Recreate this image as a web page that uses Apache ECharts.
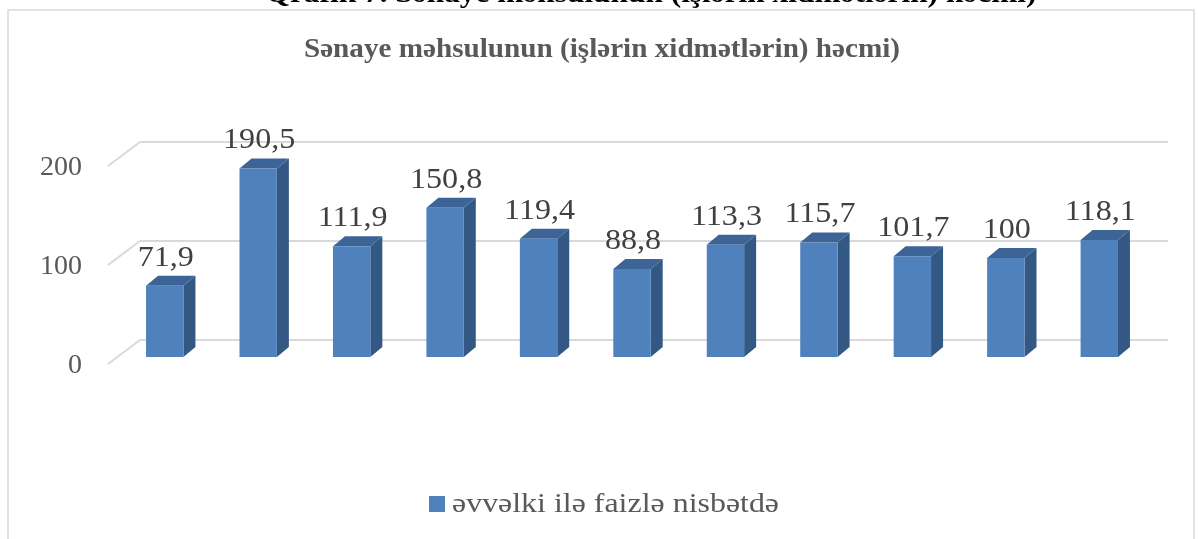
<!DOCTYPE html>
<html>
<head>
<meta charset="utf-8">
<script src="https://cdn.jsdelivr.net/npm/echarts@6/dist/echarts.min.js"></script>
<style>
  html, body { margin: 0; padding: 0; background: #fff; }
  #chart { width: 1198px; height: 539px; }
</style>
</head>
<body>
<div id="chart"></div>
<script>
  // data
  var categories = ['1', '2', '3', '4', '5', '6', '7', '8', '9', '10', '11']
  var values = [71.9, 190.5, 111.9, 150.8, 119.4, 88.8, 113.3, 115.7, 101.7, 100, 118.1]
  var yTicks = [0, 100, 200]
  var seriesName = 'əvvəlki ilə faizlə nisbətdə'
  var chartTitle = 'Sənaye məhsulunun (işlərin xidmətlərin) həcmi)'
  var pageTitle = 'Qrafik 7. Sənaye məhsulunun (işlərin xidmətlərin) həcmi)'

  var FONT = '"Liberation Serif", "Times New Roman", serif'
  var FRONT = '#4F81BD'
  var SIDE = '#345884'
  var TOP = '#3C6496'
  // bars stand in front of the back wall; depth offsets in px
  var SHIFT_X = -22, SHIFT_Y = 17
  var DEPTH_X = 12, DEPTH_Y = -10

  function fmt(v) {
    return String(v).replace('.', ',')
  }

  var chart = echarts.init(document.getElementById('chart'))

  chart.setOption({
    animation: false,
    grid: { left: 140, right: 30, top: 142, bottom: 199 },
    xAxis: {
      type: 'category',
      data: categories,
      axisLine: { show: false },
      axisTick: { show: false },
      axisLabel: { show: false }
    },
    yAxis: {
      type: 'value',
      min: 0,
      max: 200,
      interval: 100,
      axisLine: { show: false },
      axisTick: { show: false },
      axisLabel: { show: false },
      splitLine: { lineStyle: { color: '#D9D9D9', width: 2 } }
    },
    graphic: [
      {
        type: 'rect',
        shape: { x: 8, y: 10, width: 1186, height: 540 },
        style: { fill: 'none', stroke: '#D9D9D9', lineWidth: 1.5 },
        silent: true
      },
      {
        type: 'text',
        x: 651, y: -5, scaleX: 1.12,
        style: { text: pageTitle, x: 0, y: 0, align: 'center', verticalAlign: 'middle',
          font: 'bold 28px ' + FONT, fill: '#000' },
        silent: true
      },
      {
        type: 'text',
        x: 602, y: 50, scaleX: 1.08,
        style: { text: chartTitle, x: 0, y: 0, align: 'center', verticalAlign: 'middle',
          font: 'bold 27px ' + FONT, fill: '#595959' },
        silent: true
      },
      {
        type: 'rect',
        shape: { x: 429, y: 496, width: 16, height: 16 },
        style: { fill: FRONT },
        silent: true
      },
      {
        type: 'text',
        x: 452, y: 505, scaleX: 1.14,
        style: { text: seriesName, x: 0, y: 0, align: 'left', verticalAlign: 'middle',
          font: '28px ' + FONT, fill: '#595959' },
        silent: true
      }
    ],
    series: [
      {
        // floor/side wall diagonals and y tick labels
        type: 'custom',
        silent: true,
        data: yTicks.map(function (t) { return [0, t] }),
        renderItem: function (params, api) {
          var p = api.coord([0, api.value(1)])
          var left = p[0] - api.size([1, 0])[0] / 2
          return {
            type: 'group',
            children: [
              {
                type: 'line',
                shape: { x1: left, y1: p[1], x2: left - 32, y2: p[1] + 24 },
                style: { stroke: '#D9D9D9', lineWidth: 2 }
              },
              {
                type: 'text',
                style: { text: String(api.value(1)), x: 82, y: p[1] + 26, align: 'right',
                  verticalAlign: 'middle', font: '28px ' + FONT, fill: '#595959' }
              }
            ]
          }
        }
      },
      {
        name: seriesName,
        type: 'custom',
        itemStyle: { color: FRONT },
        data: values.map(function (v, i) { return [i, v] }),
        renderItem: function (params, api) {
          var i = api.value(0)
          var v = api.value(1)
          var p = api.coord([i, v])
          var b = api.coord([i, 0])
          var bw = api.size([1, 0])[0] * 0.4
          var fx = p[0] + SHIFT_X - bw / 2
          var top = p[1] + SHIFT_Y
          var bottom = b[1] + SHIFT_Y
          return {
            type: 'group',
            children: [
              {
                type: 'polygon',
                shape: { points: [[fx + bw, top], [fx + bw + DEPTH_X, top + DEPTH_Y],
                  [fx + bw + DEPTH_X, bottom + DEPTH_Y], [fx + bw, bottom]] },
                style: { fill: SIDE }
              },
              {
                type: 'polygon',
                shape: { points: [[fx, top], [fx + DEPTH_X, top + DEPTH_Y],
                  [fx + bw + DEPTH_X, top + DEPTH_Y], [fx + bw, top]] },
                style: { fill: TOP }
              },
              {
                type: 'rect',
                shape: { x: fx, y: top, width: bw, height: bottom - top },
                style: { fill: FRONT }
              },
              {
                type: 'text',
                x: fx + bw / 2 + 1, y: top - 28, scaleX: 1.07,
                style: { text: fmt(v), x: 0, y: 0, align: 'center',
                  verticalAlign: 'middle', font: '30px ' + FONT, fill: '#404040' }
              }
            ]
          }
        }
      }
    ]
  })
</script>
</body>
</html>
